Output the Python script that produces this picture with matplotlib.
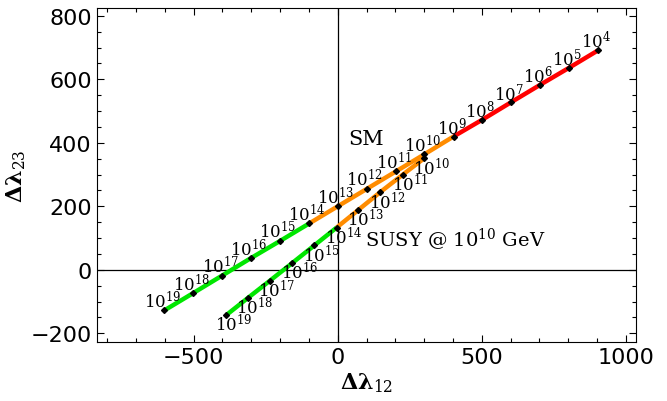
import numpy as np
import matplotlib.pyplot as plt
from matplotlib.ticker import MultipleLocator

plt.rcParams['mathtext.fontset'] = 'dejavuserif'

# running scale exponents (log10 of the scale in GeV)
sm_exp = np.arange(4, 20)
sm_x = [903, 804, 703, 602, 502, 402, 301, 202, 101, 0, -99, -200, -301, -401, -501, -602]
sm_y = [691, 637, 583, 528, 473, 420, 364, 310, 255, 200, 146, 91, 37, -18, -73, -128]

susy_exp = np.arange(10, 20)
susy_x = [301, 226, 148, 72, -4, -81, -157, -235, -311, -386]
susy_y = [352, 300, 245, 189, 133, 77, 22, -34, -88, -142]

# colour bands in log10(scale)
bands = [(4, 9, '#ff0000'), (9, 14, '#ff8c00'), (14, 19, '#00e600')]

fig = plt.figure(figsize=(6.67, 4.02), dpi=100)
ax = fig.add_axes([0.146, 0.147, 0.807, 0.830])

ax.axhline(0, color='black', lw=0.9, zorder=1)
ax.axvline(0, color='black', lw=0.9, zorder=1)


def draw_track(exps, xs, ys, dx, dy):
    exps = np.asarray(exps)
    xs = np.asarray(xs)
    ys = np.asarray(ys)
    for lo, hi, col in bands:
        m = (exps >= lo) & (exps <= hi)
        if m.sum() > 1:
            ax.plot(xs[m], ys[m], color=col, lw=3.2, solid_capstyle='butt', zorder=2)
    ax.plot(xs, ys, 'D', color='black', ms=3, zorder=3)
    for e, x, y in zip(exps, xs, ys):
        ax.annotate(r'$10^{%d}$' % e, (x, y), xytext=(dx, dy), textcoords='offset pixels',
                    ha='center', va='center', fontsize=12, zorder=4)


draw_track(sm_exp, sm_x, sm_y, -2, 10)
draw_track(susy_exp, susy_x, susy_y, 7, -9)

ax.text(36, 413, 'SM', family='DejaVu Serif', fontsize=15, va='center')
ax.text(95, 98, r'SUSY @ $10^{10}$ GeV', family='DejaVu Serif', fontsize=14, va='center')

ax.set_xlim(-834, 1034)
ax.set_ylim(-227, 824)
ax.xaxis.set_major_locator(MultipleLocator(500))
ax.xaxis.set_minor_locator(MultipleLocator(100))
ax.yaxis.set_major_locator(MultipleLocator(200))
ax.yaxis.set_minor_locator(MultipleLocator(50))
ax.tick_params(which='both', direction='in', top=True, right=True, width=0.8)
ax.tick_params(which='major', length=5, pad=4, labelsize=16)
ax.tick_params(which='minor', length=3)

ax.set_xlabel(r'$\mathbf{\Delta\lambda}_{12}$', fontsize=16, labelpad=2)
ax.set_ylabel(r'$\mathbf{\Delta\lambda}_{23}$', fontsize=16, labelpad=2)

fig.savefig('out.png', dpi=100)
